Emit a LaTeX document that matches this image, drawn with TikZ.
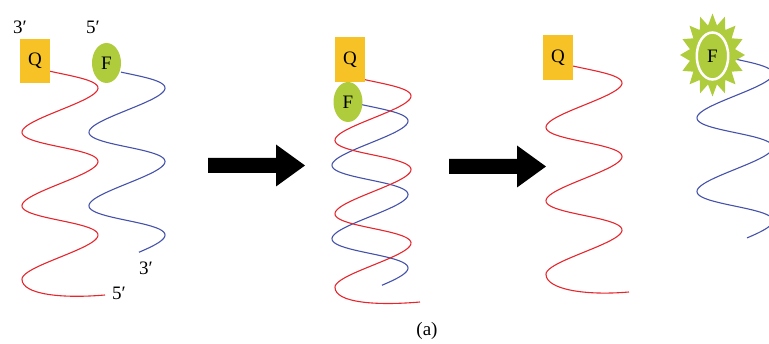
\documentclass[tikz,border=0pt]{standalone}
\usepackage{fontspec}
\setmainfont{Liberation Serif}
\usetikzlibrary{shapes.geometric}

\definecolor{strandred}{RGB}{230,38,45}
\definecolor{strandblue}{RGB}{68,82,170}
\definecolor{quencher}{RGB}{246,194,38}
\definecolor{fluor}{RGB}{175,204,60}

\tikzset{
    bigarrow/.pic={\fill (0,7.5) -- (68,7.5) -- (68,21) -- (97,0) -- (68,-21) -- (68,-7.5) -- (0,-7.5) -- cycle;}
}

\begin{document}
\begin{tikzpicture}[
        x=1pt, y=1pt,
        font=\fontsize{19}{21}\selectfont,
        declare function={wx(\t)=38*sin(\t r); wy(\t)=-11.7*\t+3.75*sin(\t r);},
        rstrand/.style={draw=strandred, line width=1.1pt},
        bstrand/.style={draw=strandblue, line width=1.1pt},
        tail/.style={out=-90, in=185, out looseness=0.45, in looseness=1.35},
        qbox/.style={rectangle, fill=quencher, minimum width=30pt, minimum height=44pt, inner sep=0pt},
        fdot/.style={ellipse, fill=fluor, minimum width=29pt, minimum height=40pt, inner sep=0pt},
        lbl/.style={inner sep=0pt}
    ]
    \useasboundingbox (0,0) rectangle (769,344);
    \clip (0,0) rectangle (769,344);

% ----- strands, separated -----
    \draw[rstrand] plot[domain=-0.266:17.279, samples=160, variable=\t] ({60+wx(\t)}, {270.6+wy(\t)})
        to[tail] (105,49);
    \draw[bstrand] plot[domain=-0.158:15.39, samples=160, variable=\t] ({127+wx(\t)}, {270.6+wy(\t)});

    \node[qbox] (q1) at (35,283) {Q};
    \node[fdot] (f1) at (106.5,281) {F};

    \node[lbl] (e31) at (20,317) {3′};
    \node[lbl] (e51) at (93,317) {5′};
    \node[lbl] (e32) at (146,76) {3′};
    \node[lbl] (e52) at (119,51) {5′};

% ----- strands, paired -----
    \draw[bstrand] plot[domain=-0.21:15.39, samples=160, variable=\t] ({370+wx(\t)}, {237.6+wy(\t)});
    \draw[rstrand] plot[domain=-0.21:17.279, samples=160, variable=\t] ({373+wx(\t)}, {262.6+wy(\t)})
        to[tail] (420,42);

    \node[qbox, minimum height=45pt] (q2) at (350,284.5) {Q};
    \node[fdot] (f2) at (348,242) {F};

% ----- strands, cut apart -----
    \draw[rstrand] plot[domain=-0.29:17.279, samples=160, variable=\t] ({584+wx(\t)}, {275.6+wy(\t)})
        to[tail] (629,52);
    \draw[bstrand] plot[domain=-0.21:15.39, samples=160, variable=\t] ({735+wx(\t)}, {284.9+wy(\t)});

    \node[qbox, minimum height=45pt] (q3) at (558,286.5) {Q};

    % glow around the free dye
    \fill[fluor] plot[samples at={0,...,31}, variable=\k]
        ({712.5+(isodd(\k)?23:32.5)*cos(90+\k*11.25)}, {289+(isodd(\k)?30:41.5)*sin(90+\k*11.25)}) -- cycle;
    \node[fdot, draw=white, line width=2.5pt, minimum width=31.5pt, minimum height=47pt] (f3) at (712.5,288) {F};

% ----- arrows -----
    \pic at (208,178.5) {bigarrow};
    \pic at (449,177.5) {bigarrow};

    \node[lbl] (cap) at (427,13) {(a)};

\end{tikzpicture}
\end{document}
